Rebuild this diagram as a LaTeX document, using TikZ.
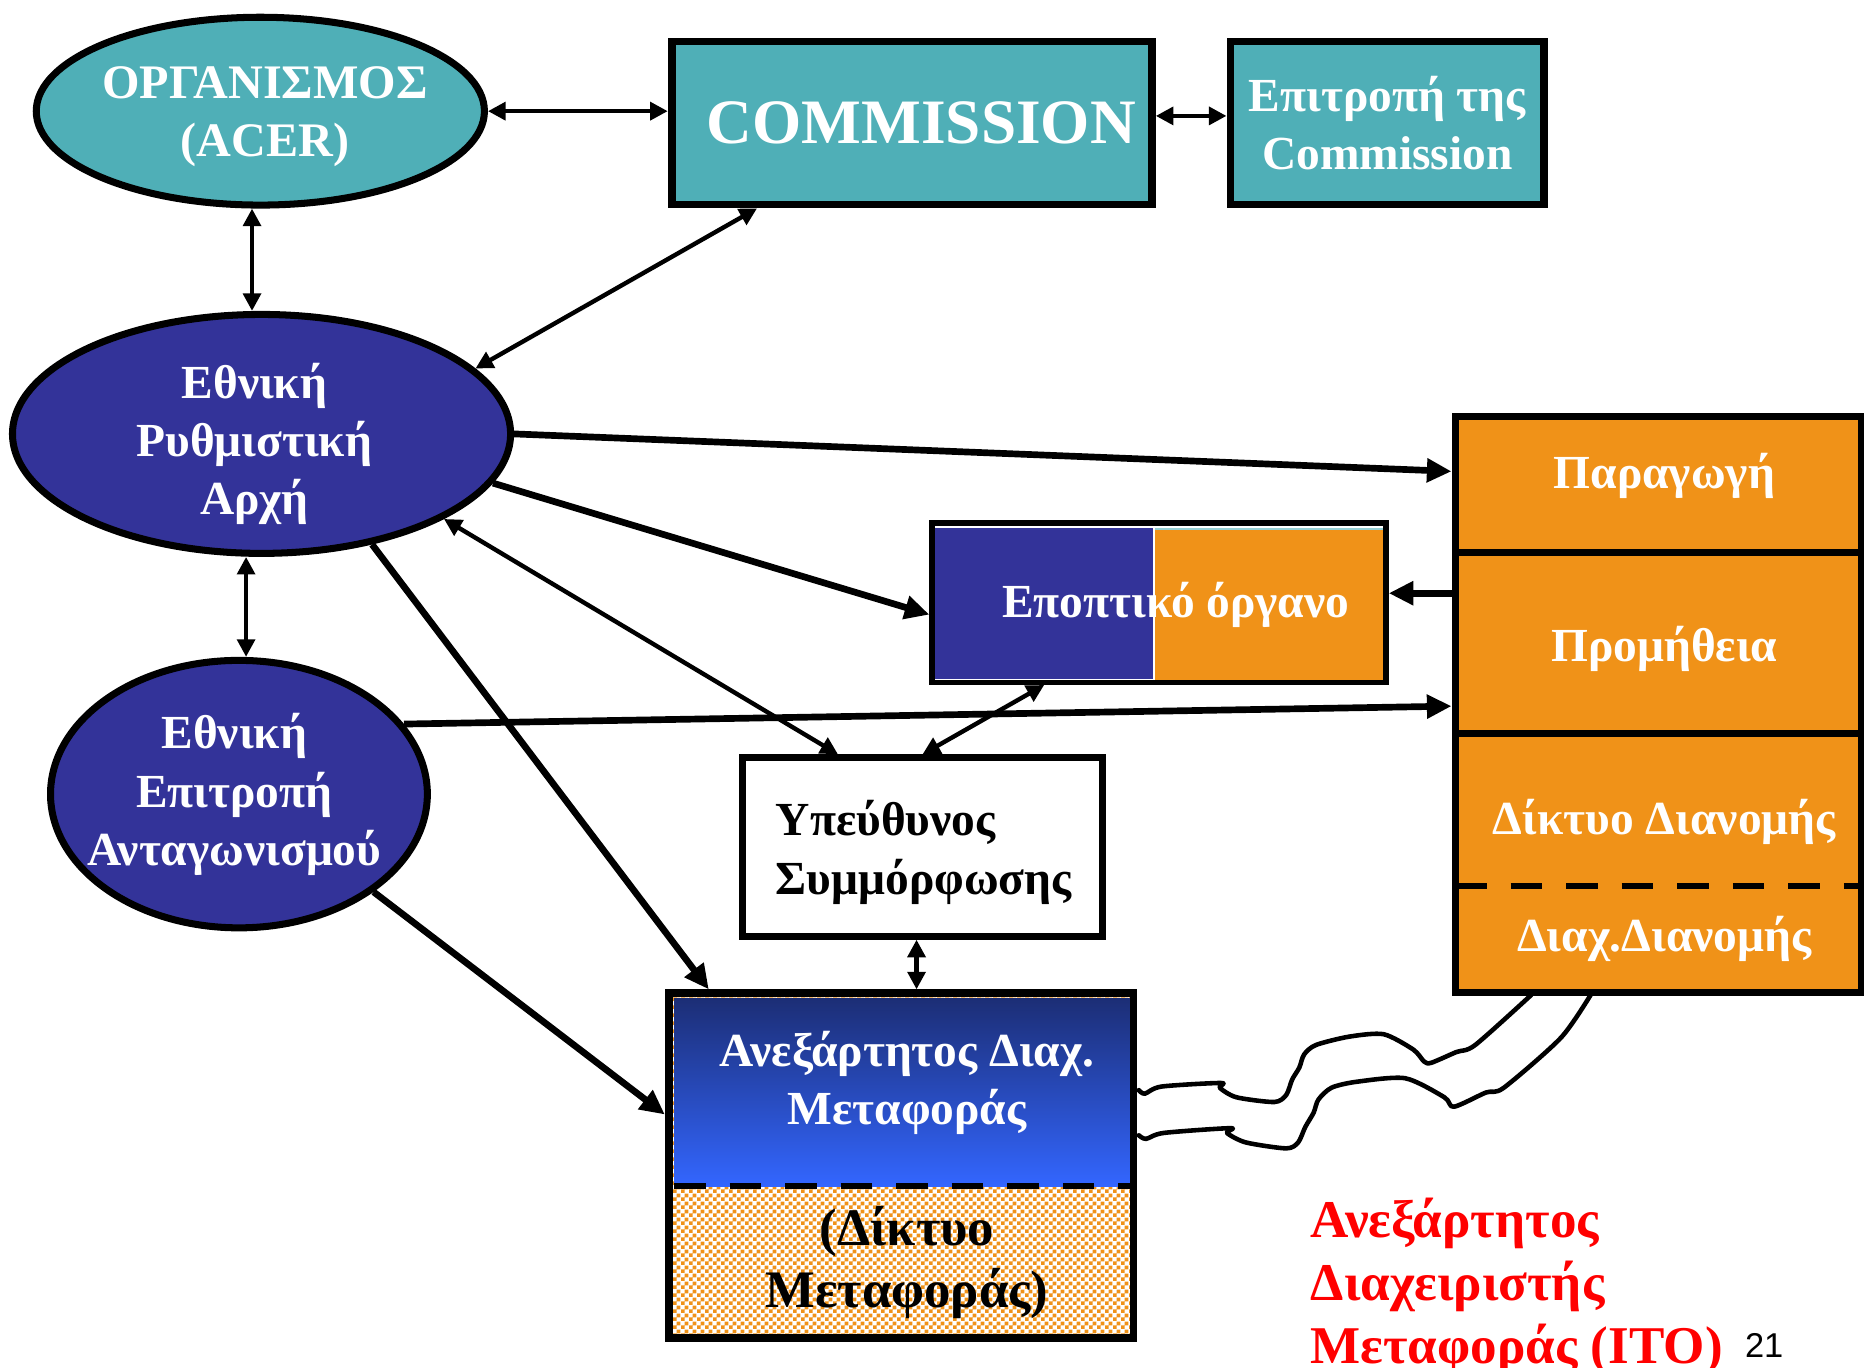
\documentclass[tikz,border=0pt]{standalone}
\usepackage{fontspec}
\setmainfont{Liberation Serif}
\newfontfamily\sansf{Liberation Sans}
\usetikzlibrary{arrows.meta,shapes.geometric,calc,patterns}
\definecolor{teal1}{RGB}{79,175,183}
\definecolor{navy1}{RGB}{51,51,153}
\definecolor{orng}{RGB}{240,146,24}
\definecolor{gtop}{RGB}{28,46,118}
\definecolor{gbot}{RGB}{51,102,255}
\def\u{0.011888cm}
\pgfdeclarepatternformonly{orchk}{\pgfqpoint{0pt}{0pt}}{\pgfqpoint{2.2pt}{2.2pt}}{\pgfqpoint{2.2pt}{2.2pt}}{%
  \pgfpathrectangle{\pgfqpoint{0pt}{0pt}}{\pgfqpoint{1.1pt}{1.1pt}}%
  \pgfpathrectangle{\pgfqpoint{1.1pt}{1.1pt}}{\pgfqpoint{1.1pt}{1.1pt}}%
  \pgfusepath{fill}}
\begin{document}
\begin{tikzpicture}[x=\u, y=-\u,
  bord/.style={draw=black, line width=2pt},
  ell/.style={ellipse, bord, inner sep=0pt},
  wtxt/.style={text=white, font=\bfseries\fontsize{13.5}{16.6}\selectfont, align=center},
  btxt/.style={text=black, font=\bfseries\fontsize{13.5}{16.9}\selectfont, align=left},
  colbox/.style={fill=orng, minimum width=342*\u, inner sep=0pt, outer sep=0pt},
  thinarr/.style={line width=1.25pt, {Triangle[length=5pt,width=5pt]}-{Triangle[length=5pt,width=5pt]}},
  thickarr/.style={line width=1.9pt, -{Triangle[length=7pt,width=6.5pt]}}
]
\useasboundingbox (0,0) rectangle (1568,1150.7);

% ---- top row
\node[ell, fill=teal1, minimum width=377*\u, minimum height=158*\u] (acer) at (219,93.5) {};
\node[wtxt, font=\bfseries\fontsize{13.7}{16.6}\selectfont] (acert) at (223,98) {ΟΡΓΑΝΙΣΜΟΣ\\(ACER)};
\node[bord, line width=2.2pt, fill=teal1, minimum width=404*\u, minimum height=137*\u, text=white,
  font=\bfseries\fontsize{18}{20}\selectfont] (comm) at (767,103.5) {\hspace*{0.19cm}COMMISSION};
\node[bord, line width=2.2pt, fill=teal1, minimum width=264*\u, minimum height=137*\u, wtxt,
  font=\bfseries\fontsize{13.5}{16.3}\selectfont] (epi) at (1167,103.5) {Επιτροπή της\\Commission};

% ---- ellipses
\node[ell, fill=navy1, minimum width=419*\u, minimum height=201*\u] (nra) at (220,365) {};
\node[wtxt] (nrat) at (214,373.5) {Εθνική\\Ρυθμιστική\\Αρχή};
\node[ell, fill=navy1, minimum width=317*\u, minimum height=225*\u] (comp) at (201,668) {};
\node[wtxt] (compt) at (197,668.5) {Εθνική\\Επιτροπή\\Ανταγωνισμού};

% ---- supervisory body
\fill[white] (782,438) rectangle (1168,576);
\fill[orng] (971,446) rectangle (1165,574);
\draw[teal1!60, line width=0.6pt] (971,445) -- (1165,445);
\filldraw[fill=navy1, draw=white, line width=0.6pt] (786,443) rectangle (971,572);
\node[draw, line width=1.5pt, minimum width=382*\u, minimum height=134*\u, inner sep=0pt] (epo) at (975,507) {};
\node[wtxt] (epot) at (989,509) {Εποπτικό όργανο};

% ---- compliance officer
\node[bord, fill=white, minimum width=303*\u, minimum height=150*\u] (ype) at (776,712.5) {};
\node[btxt] (ypet) at (777,717) {Υπεύθυνος\\Συμμόρφωσης};

% ---- ITO box
\fill[white] (560,833) rectangle (956,1128);
\fill[pattern=orchk, pattern color=orng] (560,833) rectangle (956,1128);
\shade[top color=gtop, bottom color=gbot] (567,840) rectangle (953,998);
\draw[line width=1.7pt, dash pattern=on 9pt off 6.8pt] (567,998) -- (953,998);
\node[bord, line width=2.2pt, minimum width=391*\u, minimum height=290*\u, inner sep=0pt] (ito) at (758,980.5) {};
\node[wtxt] (itot) at (763,911) {Ανεξάρτητος Διαχ.\\Μεταφοράς};
\node[btxt, align=center, font=\bfseries\fontsize{15}{17.9}\selectfont] (itob) at (763,1062) {(Δίκτυο\\Μεταφοράς)};

% ---- right column
\node[colbox, minimum height=115*\u] (par) at (1395,407.5) {};
\node[colbox, minimum height=152*\u] (pro) at (1395,541) {};
\node[colbox, minimum height=128*\u] (dik) at (1395,681) {};
\node[colbox, minimum height=90*\u] (dia) at (1395,790) {};
\draw[line width=2pt] (par.north west) rectangle (dia.south east);
\draw[line width=2pt] (pro.north west) -- (pro.north east);
\draw[line width=2pt] (dik.north west) -- (dik.north east);
\draw[line width=1.7pt, dash pattern=on 9pt off 6.8pt] (dia.north west) -- (dia.north east);
\node[wtxt] (part) at (1400,400.5) {Παραγωγή};
\node[wtxt] (prot) at (1400,546) {Προμήθεια};
\node[wtxt] (dikt) at (1400,691) {Δίκτυο Διανομής};
\node[wtxt] (diat) at (1400,790) {Διαχ.Διανομής};

% ---- wavy links
\draw[line width=1.3pt, line join=round, line cap=round] plot[smooth, tension=0.45] coordinates {
 (958,917) (963,920) (977,914) (1027,911) (1026,915) (1040,923) (1072,927) (1082,921) (1087,908)
 (1093,898) (1097,887) (1107,879) (1135,872) (1164,870) (1189,883) (1198,893) (1204,894)
 (1225,885) (1241,879) (1288,837)};
\draw[line width=1.3pt, line join=round, line cap=round] plot[smooth, tension=0.45] coordinates {
 (958,955) (964,958) (979,953) (1035,949) (1032,953) (1048,961) (1082,966) (1092,961) (1098,948)
 (1105,936) (1109,925) (1120,915) (1141,910) (1182,907) (1215,923) (1223,931) (1250,919)
 (1265,915) (1313,873) (1338,837)};

% ---- labels
\node[anchor=west, align=left, text=red, font=\bfseries\fontsize{15.1}{17.9}\selectfont, inner sep=0pt] (itol) at (1102,1082) {Ανεξάρτητος\\Διαχειριστής\\Μεταφοράς (ITO)};
\node[font=\sansf\fontsize{9.8}{12}\selectfont, inner sep=0pt] (pg) at (1484,1132) {21};

% ---- connectors
\draw[thinarr] (acer.east) -- (acer.east -| comm.west);
\draw[thinarr] ($(comm.east)+(0,-6)$) -- ($(epi.west)+(0,-6)$);
\draw[thinarr] ($(acer.south)+(-7,0)$) -- ($(nra.north)+(-8,0)$);
\draw[thinarr] ($(comm.south west)!0.183!(comm.south east)$) -- (nra.17);
\draw[thickarr] (nra.east) -- ($(par.west)+(-3,-11)$);
\draw[thickarr] (nra.-12) -- ($(epo.west)+(0,10)$);
\draw[thickarr] ($(pro.west)+(0,-42)$) coordinate (g1) -- (g1 -| epo.east);
\draw[thinarr] (nra.-25) -- ($(ype.north west)!0.27!(ype.north east)$);
\draw[thickarr] (nra.-45) -- ($(ito.north west)!0.093!(ito.north east)$);
\draw[thinarr] ($(nra.south)+(-13,0)$) -- ($(comp.north)+(6,0)$);
\draw[thickarr] (comp.23) -- ($(pro.west)+(-3,53)$);
\draw[thickarr] (comp.-36) -- ($(ito.west)+(0,-43)$);
\draw[thinarr] ($(epo.south west)!0.25!(epo.south east)$) -- ($(ype.north west)!0.5!(ype.north east)$);
\draw[thinarr] ($(ype.south)+(-5,0)$) -- ($(ito.north)+(13,0)$);
\end{tikzpicture}
\end{document}
